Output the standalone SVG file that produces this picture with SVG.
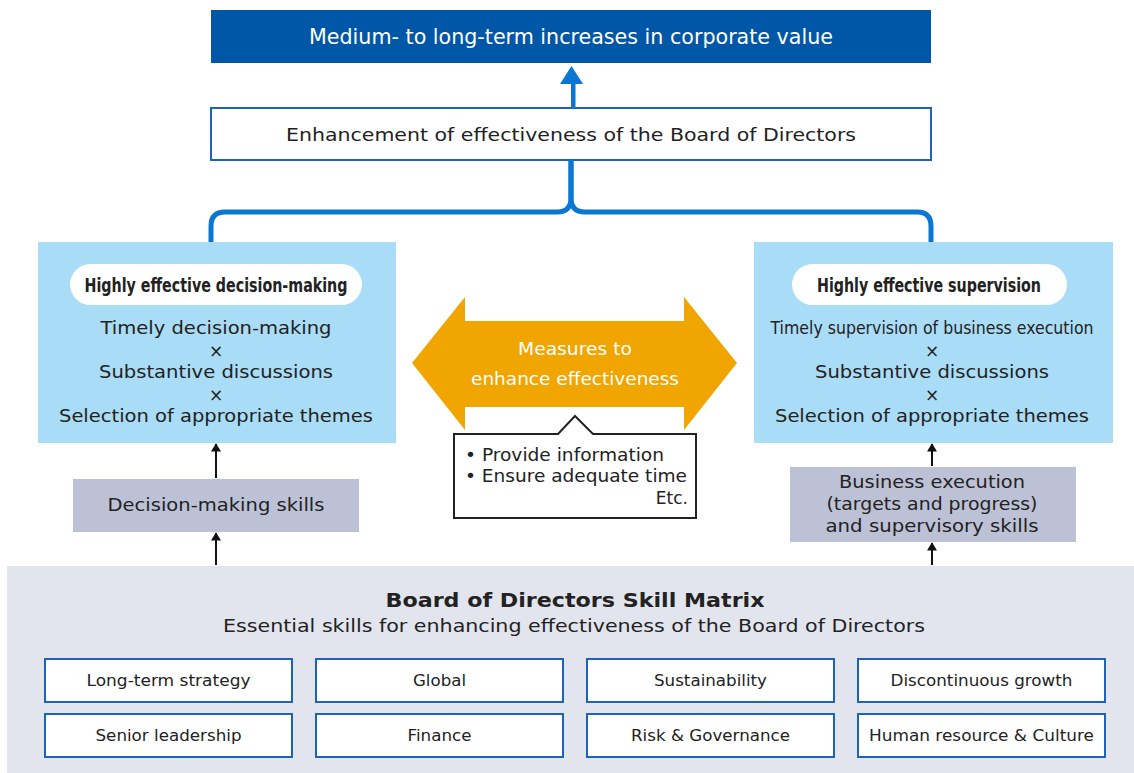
<svg xmlns="http://www.w3.org/2000/svg" width="1134" height="773" viewBox="0 0 1134 773">
<defs>
<style>
.t{font-family:"DejaVu Sans",Verdana,sans-serif;fill:#222;text-anchor:middle}
.n{font-family:"Liberation Sans Narrow","DejaVu Sans Condensed",sans-serif;text-anchor:middle}
.skill{fill:#fff;stroke:#1c64b8;stroke-width:2}
.sk{font-family:"DejaVu Sans",Tahoma,sans-serif;font-size:16.5px;fill:#222;text-anchor:middle}
.lb{fill:#a9dcf6}
.gb{fill:#bcc1d6}
.conn{stroke:#111;stroke-width:2;fill:none}
</style>
<marker id="ah" viewBox="0 0 10 12" refX="9" refY="6" markerWidth="12" markerHeight="10" markerUnits="userSpaceOnUse" orient="auto">
<path d="M0,0 L10,6 L0,12 Z" fill="#111"/>
</marker>
</defs>
<rect width="1134" height="773" fill="#fff"/>

<g id="corporate-value">
<rect x="211" y="10" width="720" height="53" fill="#0057a8"/>
<text class="n" x="571" y="44" font-size="21" fill="#fff" textLength="524" lengthAdjust="spacingAndGlyphs">Medium- to long-term increases in corporate value</text>
</g>

<g id="enhancement">
<rect x="211" y="108" width="720" height="52" fill="#fff" stroke="#1c64b8" stroke-width="2"/>
<text class="t" x="571" y="141" font-size="18" textLength="570" lengthAdjust="spacingAndGlyphs">Enhancement of effectiveness of the Board of Directors</text>
</g>

<g id="connectors">
<path d="M571,108 V84 H560 L571.5,66 L583,84 H575.5 V108 Z" fill="#0a78d2"/>
<path d="M571,160 V198 Q571,212 557,212 H225 Q211,212 211,226 V242" fill="none" stroke="#0a78d2" stroke-width="5"/>
<path d="M571,160 V198 Q571,212 585,212 H917 Q931,212 931,226 V242" fill="none" stroke="#0a78d2" stroke-width="5"/>
<line class="conn" x1="216" y1="478" x2="216" y2="444" marker-end="url(#ah)"/>
<line class="conn" x1="216" y1="565" x2="216" y2="533" marker-end="url(#ah)"/>
<line class="conn" x1="932" y1="466" x2="932" y2="444" marker-end="url(#ah)"/>
<line class="conn" x1="932" y1="565" x2="932" y2="543" marker-end="url(#ah)"/>
</g>

<g id="decision-making">
<rect class="lb" x="38" y="242" width="358" height="201"/>
<rect x="70" y="264" width="292" height="41" rx="20.5" fill="#fff"/>
<text class="n" x="216" y="292" font-size="19" font-weight="bold" fill="#222" textLength="263" lengthAdjust="spacingAndGlyphs">Highly effective decision-making</text>
<text class="t" x="216" y="334" font-size="17.5" textLength="231" lengthAdjust="spacingAndGlyphs">Timely decision-making</text>
<text class="t" x="216" y="357" font-size="17">×</text>
<text class="t" x="216" y="378" font-size="17.5" textLength="234" lengthAdjust="spacingAndGlyphs">Substantive discussions</text>
<text class="t" x="216" y="401" font-size="17">×</text>
<text class="t" x="216" y="422" font-size="17.5" textLength="314" lengthAdjust="spacingAndGlyphs">Selection of appropriate themes</text>
</g>

<g id="supervision">
<rect class="lb" x="754" y="242" width="359" height="201"/>
<rect x="792" y="264" width="275" height="41" rx="20.5" fill="#fff"/>
<text class="n" x="929" y="292" font-size="19" font-weight="bold" fill="#222" textLength="224" lengthAdjust="spacingAndGlyphs">Highly effective supervision</text>
<text class="n" x="932" y="334" font-size="18.5" fill="#222" textLength="323" lengthAdjust="spacingAndGlyphs">Timely supervision of business execution</text>
<text class="t" x="932" y="357" font-size="17">×</text>
<text class="t" x="932" y="378" font-size="17.5" textLength="234" lengthAdjust="spacingAndGlyphs">Substantive discussions</text>
<text class="t" x="932" y="401" font-size="17">×</text>
<text class="t" x="932" y="422" font-size="17.5" textLength="314" lengthAdjust="spacingAndGlyphs">Selection of appropriate themes</text>
</g>

<g id="decision-skills">
<rect class="gb" x="73" y="479" width="286" height="53"/>
<text class="t" x="216" y="511" font-size="17" textLength="217" lengthAdjust="spacingAndGlyphs">Decision-making skills</text>
</g>

<g id="supervisory-skills">
<rect class="gb" x="790" y="467" width="286" height="75"/>
<text class="t" x="932" y="488" font-size="17" textLength="186" lengthAdjust="spacingAndGlyphs">Business execution</text>
<text class="t" x="932" y="510" font-size="17" textLength="211" lengthAdjust="spacingAndGlyphs">(targets and progress)</text>
<text class="t" x="932" y="532" font-size="17" textLength="213" lengthAdjust="spacingAndGlyphs">and supervisory skills</text>
</g>

<g id="measures">
<path d="M412,363 L465,297 V321 H684 V297 L737,363 L684,430 V407 H465 V430 Z" fill="#f0a500"/>
<text class="t" x="575" y="355" font-size="17.5" style="fill:#fff" textLength="114" lengthAdjust="spacingAndGlyphs">Measures to</text>
<text class="t" x="575" y="385" font-size="17.5" style="fill:#fff" textLength="208" lengthAdjust="spacingAndGlyphs">enhance effectiveness</text>
</g>

<g id="measures-detail">
<path d="M454,434 H558 L575,416 L593,434 H696 V518 H454 Z" fill="#fff" stroke="#222" stroke-width="2"/>
<text class="t" x="465" y="461" font-size="17" style="text-anchor:start" textLength="199" lengthAdjust="spacingAndGlyphs">• Provide information</text>
<text class="t" x="465" y="482" font-size="17" style="text-anchor:start" textLength="222" lengthAdjust="spacingAndGlyphs">• Ensure adequate time</text>
<text class="t" x="688" y="504" font-size="17" style="text-anchor:end">Etc.</text>
</g>

<g id="skill-matrix">
<rect x="7" y="566" width="1127" height="207" fill="#e3e5ee"/>
<text class="t" x="575" y="607" font-size="20" font-weight="bold" textLength="379" lengthAdjust="spacingAndGlyphs">Board of Directors Skill Matrix</text>
<text class="t" x="574" y="632" font-size="17.5" textLength="702" lengthAdjust="spacingAndGlyphs">Essential skills for enhancing effectiveness of the Board of Directors</text>
</g>

<g id="skill-long-term">
<rect class="skill" x="45" y="659" width="247" height="43"/>
<text class="sk" x="168.5" y="686" textLength="164" lengthAdjust="spacingAndGlyphs">Long-term strategy</text>
</g>
<g id="skill-global">
<rect class="skill" x="316" y="659" width="247" height="43"/>
<text class="sk" x="439.5" y="686" textLength="53" lengthAdjust="spacingAndGlyphs">Global</text>
</g>
<g id="skill-sustainability">
<rect class="skill" x="587" y="659" width="247" height="43"/>
<text class="sk" x="710.5" y="686" textLength="113" lengthAdjust="spacingAndGlyphs">Sustainability</text>
</g>
<g id="skill-discontinuous">
<rect class="skill" x="858" y="659" width="247" height="43"/>
<text class="sk" x="981.5" y="686" textLength="182" lengthAdjust="spacingAndGlyphs">Discontinuous growth</text>
</g>
<g id="skill-senior">
<rect class="skill" x="45" y="714" width="247" height="43"/>
<text class="sk" x="168.5" y="741" textLength="146" lengthAdjust="spacingAndGlyphs">Senior leadership</text>
</g>
<g id="skill-finance">
<rect class="skill" x="316" y="714" width="247" height="43"/>
<text class="sk" x="439.5" y="741" textLength="64" lengthAdjust="spacingAndGlyphs">Finance</text>
</g>
<g id="skill-risk">
<rect class="skill" x="587" y="714" width="247" height="43"/>
<text class="sk" x="710.5" y="741" textLength="159" lengthAdjust="spacingAndGlyphs">Risk &amp; Governance</text>
</g>
<g id="skill-human">
<rect class="skill" x="858" y="714" width="247" height="43"/>
<text class="sk" x="981.5" y="741" textLength="225" lengthAdjust="spacingAndGlyphs">Human resource &amp; Culture</text>
</g>
</svg>
